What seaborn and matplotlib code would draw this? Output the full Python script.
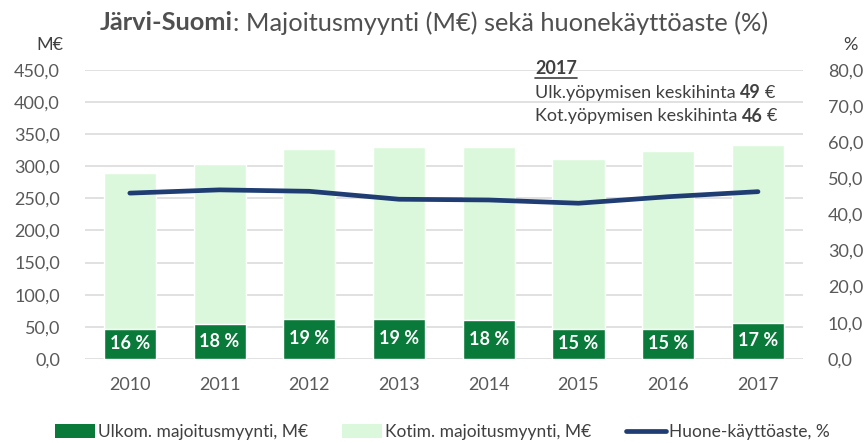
import matplotlib
matplotlib.use("Agg")
import matplotlib.pyplot as plt
import seaborn as sns
import pandas as pd
import numpy as np
from matplotlib.patches import Patch
from matplotlib.lines import Line2D

years = ["2010", "2011", "2012", "2013", "2014", "2015", "2016", "2017"]
total_sales = [290.0, 304.0, 327.5, 330.5, 330.5, 311.0, 323.5, 333.0]
foreign_sales = [47.0, 53.5, 62.0, 62.0, 60.0, 47.0, 47.0, 56.5]
foreign_share = ["16 %", "18 %", "19 %", "19 %", "18 %", "15 %", "15 %", "17 %"]
occupancy = [45.9, 46.8, 46.4, 44.2, 44.0, 43.1, 44.9, 46.3]
left_ticks = [0, 50, 100, 150, 200, 250, 300, 350, 400, 450]
right_ticks = [0, 10, 20, 30, 40, 50, 60, 70, 80]

DARK = "#0a7a3a"
LIGHT = "#dcf8dc"
NAVY = "#1f3d73"
TXT = "#595959"

sns.set_theme(style="white")
plt.rcParams["font.family"] = ["Lato", "DejaVu Sans"]

df = pd.DataFrame({"year": years, "total": total_sales, "foreign": foreign_sales,
                   "occ": occupancy})

fig = plt.figure(figsize=(8.67, 4.43), dpi=100)
ax = fig.add_axes([0.098, 0.19, 0.828, 0.652])

sns.barplot(data=df, x="year", y="total", color=LIGHT, width=0.58,
            saturation=1, ax=ax, zorder=2)
sns.barplot(data=df, x="year", y="foreign", color=DARK, width=0.58,
            saturation=1, ax=ax, zorder=3)

ax.set_ylim(0, 450)
ax.set_xlim(-0.5, len(years) - 0.5)
ax.set_yticks(left_ticks)
ax.set_yticklabels([f"{v:.1f}".replace(".", ",") for v in left_ticks])
ax.set_xlabel("")
ax.set_ylabel("")
for s in ax.spines.values():
    s.set_visible(False)
ax.grid(axis="y", color="#d9d9d9", lw=1.1, zorder=0)
ax.set_axisbelow(True)
ax.tick_params(axis="both", length=0, labelsize=13, labelcolor=TXT)
ax.tick_params(axis="y", pad=18)
ax.tick_params(axis="x", pad=13)

# share labels in dark segments
for i, (v, lab) in enumerate(zip(foreign_sales, foreign_share)):
    ax.text(i, v / 2, lab, ha="center", va="center", color="white",
            fontsize=13, fontweight="bold", zorder=5)

ax2 = ax.twinx()
sns.lineplot(data=df, x="year", y="occ", color=NAVY, lw=3.4, ax=ax2,
             zorder=4, sort=False)
ax2.set_ylim(0, 80)
ax2.set_yticks(right_ticks)
ax2.set_yticklabels([f"{v:.1f}".replace(".", ",") for v in right_ticks])
ax2.set_ylabel("")
ax2.set_xlabel("")
for s in ax2.spines.values():
    s.set_visible(False)
ax2.tick_params(axis="y", length=0, labelsize=13, labelcolor=TXT, pad=18)
ax2.grid(False)
ax.set_xlim(-0.5, len(years) - 0.5)

# axis unit labels
fig.text(63 / 867, 1 - 45 / 443, "M€", ha="right", va="center", fontsize=13, color="#404040")
fig.text(850 / 867, 1 - 45 / 443, "%", ha="center", va="center", fontsize=13, color="#404040")

# title
t1 = fig.text(100 / 867, 1 - 23 / 443, "Järvi-Suomi", ha="left", va="center",
              fontsize=18.3, fontweight="bold", color="#505050")
fig.canvas.draw()
bb = t1.get_window_extent()
fig.text(bb.x1 / fig.bbox.width, 1 - 23 / 443,
         ": Majoitusmyynti (M€) sekä huonekäyttöaste (%)", ha="left", va="center",
         fontsize=18.3, color="#505050")

# annotation
ax_x = 535 / 867
a1 = fig.text(ax_x, 1 - 68 / 443, "2017", ha="left", va="center", fontsize=13,
              fontweight="bold", color="#404040")
fig.canvas.draw()
b = a1.get_window_extent()
fig.add_artist(Line2D([b.x0 / 867, b.x1 / 867], [(b.y0 - 1) / 443, (b.y0 - 1) / 443],
                      color="#404040", lw=1.2))
for yy, lead, num in [(93, "Ulk.yöpymisen keskihinta ", "49"),
                      (116, "Kot.yöpymisen keskihinta ", "46")]:
    tx = fig.text(ax_x, 1 - yy / 443, lead, ha="left", va="center", fontsize=13,
                  color="#404040")
    fig.canvas.draw()
    bx = tx.get_window_extent()
    tn = fig.text(bx.x1 / 867, 1 - yy / 443, num, ha="left", va="center", fontsize=13,
                  fontweight="bold", color="#404040")
    fig.canvas.draw()
    bn = tn.get_window_extent()
    fig.text(bn.x1 / 867 + 0.004, 1 - yy / 443, "€", ha="left", va="center",
             fontsize=13, color="#404040")

handles = [Patch(facecolor=DARK, edgecolor="none"),
           Patch(facecolor=LIGHT, edgecolor="none"),
           Line2D([0], [0], color=NAVY, lw=3.4)]
labels = ["Ulkom. majoitusmyynti, M€", "Kotim. majoitusmyynti, M€", "Huone-käyttöaste, %"]
leg = fig.legend(handles, labels, loc="center", bbox_to_anchor=(0.51, 1 - 432 / 443),
                 ncol=3, frameon=False, fontsize=12.5, handlelength=2.3,
                 handleheight=0.9, handletextpad=0.15, columnspacing=2.0)
for t in leg.get_texts():
    t.set_color("#404040")

fig.savefig("out.png", dpi=100)
